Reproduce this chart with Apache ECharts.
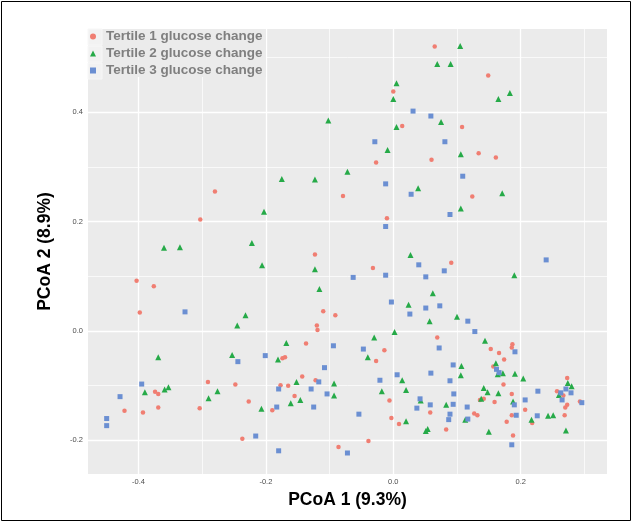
<!DOCTYPE html>
<html>
<head>
<meta charset="utf-8">
<script src="https://cdn.jsdelivr.net/npm/echarts@6/dist/echarts.min.js"></script>
<style>
  body { margin: 0; background: #fff; }
  #main { width: 632px; height: 523px; }
</style>
</head>
<body>
<div id="main"></div>
<script>
// tertile 1 (circles)
var t1X = [0.065, 0.000, 0.014, 0.108, -0.027, 0.060, 0.134, 0.149, 0.161, -0.280, -0.303, -0.403, -0.376, -0.398,
  -0.079, -0.123, -0.110, -0.091, -0.120, -0.119, 0.124, -0.010, 0.091, -0.032, -0.291, -0.374, -0.369, -0.422,
  -0.393, -0.369, -0.304, -0.137, -0.174, -0.170, -0.143, -0.122, -0.248, -0.177, -0.165, -0.155, -0.227, -0.190,
  -0.237, -0.086, 0.069, -0.014, -0.027, -0.006, 0.058, 0.127, 0.132, -0.003, 0.009, 0.083, -0.039, 0.187, 0.186,
  0.153, 0.166, 0.174, 0.157, 0.273, 0.173, 0.257, 0.267, 0.186, 0.136, 0.142, 0.293, 0.159, 0.273, 0.270, 0.207,
  0.186, 0.269, 0.218, 0.178, 0.188];
var t1Y = [0.520, 0.438, 0.375, 0.373, 0.308, 0.313, 0.325, 0.467, 0.317, 0.255, 0.204, 0.092, 0.082, 0.034,
  0.247, 0.140, 0.036, 0.029, 0.010, 0.002, 0.246, 0.206, 0.125, 0.115, -0.093, -0.111, -0.115, -0.146,
  -0.149, -0.140, -0.141, -0.023, -0.050, -0.048, -0.083, -0.090, -0.098, -0.099, -0.100, -0.119, -0.129, -0.145,
  -0.197, -0.212, -0.012, -0.035, -0.055, -0.127, -0.149, -0.151, -0.154, -0.159, -0.170, -0.180, -0.201, -0.024, -0.030,
  -0.033, -0.040, -0.052, -0.065, -0.086, -0.098, -0.110, -0.118, -0.115, -0.126, -0.124, -0.129, -0.130, -0.135, -0.140, -0.144,
  -0.154, -0.154, -0.168, -0.166, -0.191];

// tertile 2 (triangles)
var t2X = [-0.102, -0.175, -0.123, -0.072, 0.105, 0.069, 0.090, 0.005, 0.000, 0.075, 0.005, -0.009, 0.106, 0.183,
  0.165, -0.360, -0.335, -0.203, -0.222, -0.206, -0.123, -0.116, -0.232, -0.245, 0.039, 0.106, 0.027, 0.062, 0.024,
  0.057, 0.100, 0.171, 0.190, -0.369, -0.390, -0.359, -0.353, -0.276, -0.290, -0.168, -0.253, -0.181, -0.152, -0.093,
  -0.093, -0.146, -0.161, -0.207, 0.002, -0.030, -0.040, 0.107, 0.106, 0.014, -0.018, 0.020, 0.043, 0.083, 0.113,
  0.020, 0.054, 0.051, 0.144, 0.161, 0.164, 0.172, 0.191, 0.204, 0.274, 0.280, 0.142, 0.148, 0.260, 0.165, 0.138,
  0.188, 0.243, 0.251, 0.217, 0.150, 0.271];
var t2Y = [0.385, 0.278, 0.277, 0.291, 0.521, 0.488, 0.488, 0.453, 0.424, 0.382, 0.373, 0.331, 0.323, 0.435,
  0.424, 0.152, 0.153, 0.218, 0.161, 0.120, 0.113, 0.077, 0.029, 0.010, 0.261, 0.224, 0.139, 0.069, 0.048,
  0.018, 0.026, 0.252, 0.102, -0.048, -0.112, -0.107, -0.103, -0.110, -0.123, -0.022, -0.044, -0.052, -0.093, -0.096,
  -0.118, -0.126, -0.132, -0.142, -0.002, -0.012, -0.048, -0.064, -0.081, -0.090, -0.110, -0.108, -0.127, -0.135, -0.162,
  -0.165, -0.179, -0.183, -0.018, -0.059, -0.079, -0.077, -0.078, -0.087, -0.095, -0.101, -0.104, -0.112, -0.117, -0.114, -0.124,
  -0.129, -0.155, -0.154, -0.162, -0.184, -0.182];

// tertile 3 (squares)
var t3X = [0.031, 0.059, -0.029, 0.081, 0.109, -0.327, -0.012, 0.028, 0.089, -0.012, 0.040, 0.080, -0.063, -0.012,
  0.051, -0.003, 0.051, 0.073, 0.026, 0.117, 0.240, -0.395, -0.429, -0.450, -0.450, -0.094, -0.201, -0.244, -0.108,
  -0.117, -0.180, -0.129, -0.104, -0.183, -0.125, -0.216, -0.180, -0.072, 0.128, -0.047, 0.072, 0.094, 0.059, 0.006,
  -0.021, 0.089, 0.095, 0.042, 0.058, 0.094, 0.116, 0.037, -0.054, 0.089, 0.087, 0.117, 0.191, 0.162, 0.166, 0.227,
  0.271, 0.263, 0.279, 0.207, 0.265, 0.296, 0.190, 0.193, 0.226, 0.186];
var t3Y = [0.402, 0.393, 0.346, 0.346, 0.283, 0.035, 0.269, 0.250, 0.213, 0.191, 0.121, 0.110, 0.098, 0.102,
  0.099, 0.053, 0.042, 0.046, 0.031, 0.018, 0.130, -0.097, -0.120, -0.160, -0.173, -0.027, -0.045, -0.056, -0.067,
  -0.093, -0.106, -0.106, -0.115, -0.139, -0.139, -0.192, -0.219, -0.223, -0.001, -0.033, -0.031, -0.062, -0.077, -0.080,
  -0.090, -0.091, -0.115, -0.124, -0.135, -0.134, -0.139, -0.141, -0.152, -0.152, -0.162, -0.161, -0.038, -0.070, -0.076, -0.110,
  -0.106, -0.113, -0.113, -0.126, -0.126, -0.131, -0.135, -0.154, -0.155, -0.208];

var seriesNames = ['Tertile 1 glucose change', 'Tertile 2 glucose change', 'Tertile 3 glucose change'];
var xTicks = [-0.4, -0.2, 0, 0.2];
var yTicks = [-0.2, 0, 0.2, 0.4];
var xMinor = [-0.3, -0.1, 0.1, 0.3];
var yMinor = [-0.1, 0.1, 0.3, 0.5];

function pairs(xs, ys) {
  return xs.map(function (x, i) { return [x, ys[i]]; });
}

var gridLines = [];
xTicks.forEach(function (v) { gridLines.push({ xAxis: v, lineStyle: { width: 1.3 } }); });
yTicks.forEach(function (v) { gridLines.push({ yAxis: v, lineStyle: { width: 1.3 } }); });
xMinor.forEach(function (v) { gridLines.push({ xAxis: v, lineStyle: { width: 0.7 } }); });
yMinor.forEach(function (v) { gridLines.push({ yAxis: v, lineStyle: { width: 0.7 } }); });

var myChart = echarts.init(document.getElementById('main'));
var option = {
  animation: false,
  backgroundColor: '#fff',
  grid: {
    left: 88, top: 29, width: 519, height: 445,
    show: true, backgroundColor: '#EBEBEB', borderWidth: 0
  },
  xAxis: {
    type: 'value',
    min: -0.4793, max: 0.3355,
    name: 'PCoA 1 (9.3%)',
    nameLocation: 'middle',
    nameGap: 17,
    nameTextStyle: { fontSize: 17.5, fontWeight: 'bold', color: '#000', fontFamily: 'Liberation Sans, Arial' },
    axisLine: { show: false },
    splitLine: { show: false },
    axisTick: { show: true, customValues: xTicks, length: 3, lineStyle: { color: '#333' } },
    axisLabel: {
      customValues: xTicks, margin: 4, fontSize: 7.5, color: '#4D4D4D',
      formatter: function (v) { return v.toFixed(1); }
    }
  },
  yAxis: {
    type: 'value',
    min: -0.2614, max: 0.5521,
    name: 'PCoA 2 (8.9%)',
    nameLocation: 'middle',
    nameGap: 34,
    nameTextStyle: { fontSize: 17.5, fontWeight: 'bold', color: '#000', fontFamily: 'Liberation Sans, Arial' },
    axisLine: { show: false },
    splitLine: { show: false },
    axisTick: { show: true, customValues: yTicks, length: 3, lineStyle: { color: '#333' } },
    axisLabel: {
      customValues: yTicks, margin: 5, fontSize: 7.5, color: '#4D4D4D',
      formatter: function (v) { return v.toFixed(1); }
    }
  },
  legend: {
    data: seriesNames,
    orient: 'vertical',
    left: 90, top: 29,
    padding: 0,
    itemGap: 2,
    itemWidth: 6, itemHeight: 6,
    textStyle: {
      fontSize: 13.5, fontWeight: 'bold', color: '#7F7F7F', lineHeight: 15,
      padding: [0, 0, 0, 5], fontFamily: 'Liberation Sans, Arial'
    }
  },
  graphic: [
    { type: 'rect', z: 3, silent: true, shape: { x: 88, y: 29, width: 178, height: 48 }, style: { fill: '#EBEBEB' } },
    { type: 'rect', z: 3, silent: true, shape: { x: 88, y: 29, width: 14, height: 16 }, style: { fill: '#F2F2F2', stroke: '#F7F7F7', lineWidth: 1 } },
    { type: 'rect', z: 3, silent: true, shape: { x: 88, y: 46, width: 14, height: 16 }, style: { fill: '#F2F2F2', stroke: '#F7F7F7', lineWidth: 1 } },
    { type: 'rect', z: 3, silent: true, shape: { x: 88, y: 63, width: 14, height: 16 }, style: { fill: '#F2F2F2', stroke: '#F7F7F7', lineWidth: 1 } },
    { type: 'rect', z: 10, silent: true, shape: { x: 1.5, y: 1.5, width: 629, height: 519 }, style: { fill: 'none', stroke: '#000', lineWidth: 1 } }
  ],
  series: [
    {
      // white grid lines, kept under the points
      name: 'grid',
      type: 'scatter',
      z: 1,
      symbolSize: 0,
      data: [[0, 0]],
      markLine: {
        z: 1,
        silent: true,
        symbol: ['none', 'none'],
        label: { show: false },
        emphasis: { disabled: true },
        lineStyle: { color: '#fff', type: 'solid' },
        data: gridLines
      }
    },
    {
      name: seriesNames[0], type: 'scatter', z: 2,
      symbol: 'circle', symbolSize: 4.5,
      itemStyle: { color: '#F07E72', opacity: 1 },
      data: pairs(t1X, t1Y)
    },
    {
      name: seriesNames[1], type: 'scatter', z: 2,
      symbol: 'triangle', symbolSize: 6,
      itemStyle: { color: '#26AA48', opacity: 1 },
      data: pairs(t2X, t2Y)
    },
    {
      name: seriesNames[2], type: 'scatter', z: 2,
      symbol: 'rect', symbolSize: 5,
      itemStyle: { color: '#6B8FD2', opacity: 1 },
      data: pairs(t3X, t3Y)
    }
  ]
};
myChart.setOption(option);
</script>
</body>
</html>
